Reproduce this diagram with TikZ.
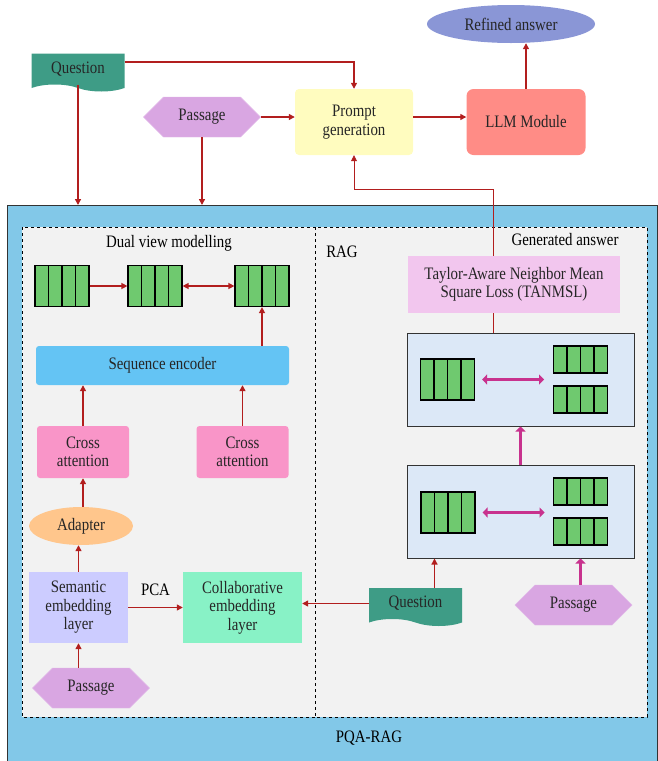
\documentclass[tikz,border=0pt]{standalone}
\usepackage{fontspec}
\setmainfont{Liberation Serif}[FakeStretch=0.85]
\usepackage{tikz}
\usetikzlibrary{arrows.meta,shapes.geometric,shapes.symbols}
\definecolor{redline}{HTML}{B21E1E}
\definecolor{magline}{HTML}{C8328E}
\definecolor{qgreen}{HTML}{3E9C86}
\definecolor{psgcol}{HTML}{D9A6E2}
\definecolor{regcol}{HTML}{6FC96F}
\definecolor{outercol}{HTML}{82C8E8}
\definecolor{anscol}{HTML}{8A96D6}
\definecolor{seqcol}{HTML}{64C4F4}
\definecolor{cacol}{HTML}{F995C8}
\definecolor{ragcol}{HTML}{DCE8F7}
\definecolor{colcol}{HTML}{88F2C6}
\definecolor{tancol}{HTML}{F2C6EE}
\definecolor{llmcol}{HTML}{FF8C86}
\tikzstyle{box} = [align=center, inner sep=2pt, text=black!85]
\tikzstyle{qdoc} = [box, tape, tape bend top=none, tape bend bottom=out and in, tape bend height=7pt, fill=qgreen, minimum width=93pt, minimum height=38pt]
\tikzstyle{psg} = [box, signal, signal to=east and west, signal pointer angle=90, fill=psgcol, draw=psgcol!80!white, minimum width=117pt, minimum height=40pt]
\tikzstyle{reg} = [draw=black, line width=1.2pt, fill=regcol, minimum width=54pt, minimum height=41pt, inner sep=0pt, path picture={\foreach \k in {1,2,3} \draw[line width=1.2pt] ([xshift=\k*13.5pt]path picture bounding box.south west) -- ([xshift=\k*13.5pt]path picture bounding box.north west);}]
\tikzstyle{sreg} = [reg, minimum height=27pt]
\tikzstyle{ragbox} = [draw=black!80, line width=1pt, fill=ragcol, minimum width=227pt, minimum height=93pt]
\tikzstyle{flow} = [draw=redline, line width=1.3pt, -{Triangle[length=6pt,width=6pt]}]
\tikzstyle{mag} = [draw=magline, line width=3.5pt, -{Triangle[length=5pt,width=10pt]}]

\begin{document}
\begin{tikzpicture}[x=1pt, y=-1pt, font=\fontsize{17.5}{18.5}\selectfont]
  \useasboundingbox (0,0) rectangle (658,761);
  % frames
  \draw[fill=outercol, draw=black!80, line width=1pt] (7,205) rectangle (657,761);
  \draw[dashed, fill=black!5, line width=0.9pt] (22,227) rectangle (315,717);
  \draw[dashed, fill=black!5, line width=0.9pt] (315,227) rectangle (647,717);
  \coordinate (otop) at (0,205);
  \coordinate (fb) at (493,189);
  % top row
  \node[box, ellipse, fill=anscol, minimum width=168pt, minimum height=38pt](ans) at (511,24){Refined answer};
  \node[qdoc](q1) at (78,69){Question};
  \node[psg](p1) at (202,117){Passage};
  \node[box, fill=yellow!25, rounded corners=4pt, minimum width=118pt, minimum height=66pt](pg) at (354,122){Prompt\\generation};
  \node[box, fill=llmcol, rounded corners=7pt, minimum width=119pt, minimum height=66pt](llm) at (526,122){LLM Module};
  \node(pqa) at (369,738){PQA-RAG};
  % dual view modelling
  \node(dual) at (169,243){Dual view modelling};
  \node[reg](r1) at (62,286){};
  \node[reg](r2) at (155,286){};
  \node[reg](r3) at (262,286){};
  \node[box, fill=seqcol, rounded corners=3pt, minimum width=253pt, minimum height=39pt](seq) at (162.5,365.5){Sequence encoder};
  \node[box, fill=cacol, rounded corners=3pt, minimum width=92pt, minimum height=52pt](ca1) at (83,452){Cross\\attention};
  \node[box, fill=cacol, rounded corners=3pt, minimum width=92pt, minimum height=52pt](ca2) at (242.5,452){Cross\\attention};
  \node[box, ellipse, fill=orange!45, minimum width=104pt, minimum height=38pt](ad) at (81,526){Adapter};
  \node[box, fill=blue!20, minimum width=99pt, minimum height=71pt](sem) at (78.5,607.5){Semantic\\embedding\\layer};
  \node[box, fill=colcol, minimum width=119pt, minimum height=71pt](col) at (242.5,607.5){Collaborative\\embedding\\layer};
  \node[psg](p2) at (91,688){Passage};
  % RAG
  \node(rag) at (342,252){RAG};
  \node(gen) at (565,240){Generated answer};
  \node[box, fill=tancol, minimum width=212pt, minimum height=57pt](tan) at (514,284.5){Taylor-Aware Neighbor Mean\\Square Loss (TANMSL)};
  \node[ragbox](rag1) at (520.5,379.5){};
  \node[reg](r4) at (447.5,379.5){};
  \node[sreg](r5) at (580.5,359.5){};
  \node[sreg](r6) at (580.5,399.5){};
  \node[ragbox](rag2) at (520.5,511.5){};
  \node[reg](r7) at (448,512.5){};
  \node[sreg](r8) at (580.5,491.5){};
  \node[sreg](r9) at (580.5,531.5){};
  \node[qdoc](q2) at (415.5,603.5){Question};
  \node[psg](p3) at (573.5,605){Passage};
  % connectors
  \draw[flow] ([yshift=7pt]q1.east) -| (pg.north);
  \draw[flow] (q1.south) -- (q1.south |- otop);
  \draw[flow] (p1.south) -- (p1.south |- otop);
  \draw[flow] (p1.east) -- (p1.east -| pg.west);
  \draw[flow] (pg.east |- p1.east) -- (llm.west |- p1.east);
  \draw[flow] (llm.north) -- (ans.south -| llm.north);
  \draw[flow, line width=0.8pt] (tan.north -| fb) -- (fb) -| (pg.south);
  \draw[draw=redline, line width=0.8pt] (rag1.north -| fb) -- (tan.south -| fb);
  \draw[flow] (r1.east) -- (r2.west);
  \draw[flow, {Triangle[length=6pt,width=6pt]}-{Triangle[length=6pt,width=6pt]}] (r2.east) -- (r3.west);
  \draw[flow] (seq.north -| r3.south) -- (r3.south);
  \draw[flow] (ca1.north) -- (ca1.north |- seq.south);
  \draw[flow] (ca2.north) -- (ca2.north |- seq.south);
  \draw[flow] (ad.north -| ca1.south) -- (ca1.south);
  \draw[flow] (sem.north) -- (sem.north |- ad.south);
  \draw[flow] (p2.north -| sem.south) -- (sem.south);
  \draw[flow] (sem.east) -- node[above, yshift=8pt]{PCA} (col.west);
  \draw[flow] (q2.west) -- (q2.west -| col.east);
  \draw[flow] ([xshift=19pt]q2.north) -- ([xshift=19pt]q2.north |- rag2.south);
  \draw[mag] (p3.north -| r9.south) -- (rag2.south -| r9.south);
  \draw[mag] (rag2.north) -- (rag1.south);
  \draw[mag, {Triangle[length=5pt,width=10pt]}-{Triangle[length=5pt,width=10pt]}] ([xshift=7pt]r4.east) -- ++(62,0);
  \draw[mag, {Triangle[length=5pt,width=10pt]}-{Triangle[length=5pt,width=10pt]}] ([xshift=7pt]r7.east) -- ++(62,0);
\end{tikzpicture}
\end{document}
